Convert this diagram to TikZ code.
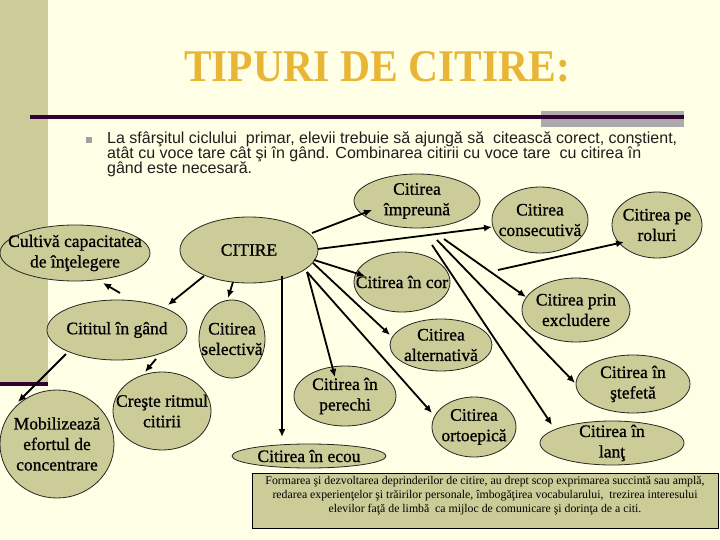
\documentclass[tikz,border=0pt]{standalone}
\usepackage{fontspec}
\setmainfont{Liberation Serif}
\newfontfamily\arialf{Liberation Sans}
\newfontfamily\ellf[FakeBold=0.9]{Liberation Serif}
\usetikzlibrary{shapes.geometric,arrows.meta,calc}
\definecolor{bg}{HTML}{FFFFE5}
\definecolor{olive}{HTML}{CCCC99}
\definecolor{darkline}{HTML}{330033}
\definecolor{titlec}{HTML}{E9B537}
\definecolor{graybar}{HTML}{ABABAB}
\definecolor{bullc}{HTML}{A0A0A0}
\definecolor{bodyc}{HTML}{1E1E1E}
\begin{document}
\begin{tikzpicture}[x=1pt,y=-1pt,
  ell/.style={ellipse, draw=black!85, line width=0.8pt, fill=olive, inner sep=0pt},
  lbl/.style={align=center, font=\ellf\fontsize{17.5}{20.5}\selectfont, inner sep=0pt},
  arr/.style={line width=1.8pt, -{Latex[length=8pt,width=7pt]}},
  bodytext/.style={anchor=base west, inner sep=0pt, text=bodyc, font=\arialf\fontsize{16}{15}\selectfont}
]
\useasboundingbox (0,0) rectangle (720,540);
\fill[bg] (0,0) rectangle (720,540);
\fill[olive] (0,0) rectangle (48,382);
\fill[darkline] (0,382) rectangle (48,386);
\fill[graybar] (541,111) rectangle (684,127);
\fill[darkline] (30,115) rectangle (684,119);

\node[font=\bfseries\fontsize{42}{42}\selectfont, text=titlec, anchor=base, inner sep=0pt, yscale=1.08, xscale=0.99] (title) at (377,82) {TIPURI DE CITIRE:};

\node[fill=bullc, minimum size=6pt, inner sep=0pt] (bullet) at (89,140) {};
\node[bodytext] (l1) at (107,144) {La sfârşitul ciclului~ primar, elevii trebuie să ajungă să~ citească corect, conştient,};
\node[bodytext] (l2) at (107,159) {atât cu voce tare cât şi în gând. Combinarea citirii cu voce tare~ cu citirea în};
\node[bodytext] (l3) at (107,174) {gând este necesară.};

% ellipses
\node[ell, minimum width=126pt, minimum height=54pt] (impreuna) at (417,201) {};
\node[ell, minimum width=96pt, minimum height=66pt] (consec) at (540,220) {};
\node[ell, minimum width=90pt, minimum height=66pt] (roluri) at (657,225) {};
\node[ell, minimum width=150pt, minimum height=56pt] (cultiva) at (75,253) {};
\node[ell, minimum width=138pt, minimum height=66pt] (citire) at (249,250) {};
\node[ell, minimum width=96pt, minimum height=60pt] (cor) at (402,282) {};
\node[ell, minimum width=140pt, minimum height=60pt] (gand) at (117,330) {};
\node[ell, minimum width=66pt, minimum height=78pt] (selectiva) at (232,339) {};
\node[ell, minimum width=98pt, minimum height=78pt] (creste) at (162,411) {};
\node[ell, minimum width=114pt, minimum height=108pt] (mobil) at (57,444) {};
\node[ell, minimum width=154pt, minimum height=24pt] (ecou) at (309,456) {};
\node[ell, minimum width=108pt, minimum height=64pt] (excl) at (576,310) {};
\node[ell, minimum width=102pt, minimum height=52pt] (altern) at (441,345) {};
\node[ell, minimum width=114pt, minimum height=58pt] (stafeta) at (633,384) {};
\node[ell, minimum width=102pt, minimum height=60pt] (perechi) at (345,396) {};
\node[ell, minimum width=84pt, minimum height=60pt] (ortoep) at (474,427) {};
\node[ell, minimum width=144pt, minimum height=44pt] (lant) at (612,443) {};

% labels
\node[lbl] at (impreuna.center) {Citirea\\împreună};
\node[lbl] at (consec.center) {Citirea\\consecutivă};
\node[lbl] at (roluri.center) {Citirea pe\\roluri};
\node[lbl] at (cultiva.center) {Cultivă capacitatea\\de înţelegere};
\node[lbl] at (citire.center) {CITIRE};
\node[lbl] at (cor.center) {Citirea în cor};
\node[lbl] at (gand.center) {Cititul în gând};
\node[lbl] at (selectiva.center) {Citirea\\selectivă};
\node[lbl] at (creste.center) {Creşte ritmul\\citirii};
\node[lbl] at (mobil.center) {Mobilizează\\efortul de\\concentrare};
\node[lbl] at (ecou.center) {Citirea în ecou};
\node[lbl] at (excl.center) {Citirea prin\\excludere};
\node[lbl] at (altern.center) {Citirea\\alternativă};
\node[lbl] at (stafeta.center) {Citirea în\\ştefetă};
\node[lbl] at (perechi.center) {Citirea în\\perechi};
\node[lbl] at (ortoep.center) {Citirea\\ortoepică};
\node[lbl] at (lant.center) {Citirea în\\lanţ};

% text box
\node[draw=black, line width=0.8pt, fill=olive, minimum width=466pt, minimum height=55pt, anchor=north west, inner sep=0pt] (box) at (252,473) {};
\node[align=center, inner sep=0pt, font=\fontsize{11.8}{14}\selectfont] at (485,495.5) {Formarea şi dezvoltarea deprinderilor de citire, au drept scop exprimarea succintă sau amplă,\\redarea experienţelor şi trăirilor personale, îmbogăţirea vocabularului,~ trezirea interesului\\elevilor faţă de limbă~ ca mijloc de comunicare şi dorinţa de a citi.};

% free starts
\coordinate (f1) at (498,270);
\coordinate (f2) at (444,239);
\coordinate (f3) at (437,240);
\coordinate (f4) at (432,245);

% arrows
\draw[arr] ($(citire.center)+(63,-17)$) -- ($(impreuna.center)+(-45,9)$);
\draw[arr] ($(citire.center)+(69,-1)$) -- ($(consec.center)+(-48,7)$);
\draw[arr] ($(citire.center)+(65,10)$) -- ($(cor.center)+(-37,-6)$);
\draw[arr] (f1) -- ($(roluri.center)+(-33,17)$);
\draw[arr] (f2) -- ($(excl.center)+(-50,-13)$);
\draw[arr] (f3) -- ($(stafeta.center)+(-58,-1)$);
\draw[arr] (f4) -- ($(lant.center)+(-60,-18)$);
\draw[arr] ($(citire.center)+(64,13)$) -- ($(altern.center)+(-51,-10)$);
\draw[arr] ($(citire.center)+(58,22)$) -- ($(ortoep.center)+(-42,-14)$);
\draw[arr] ($(citire.center)+(58,22)$) -- ($(perechi.center)+(-10,-19)$);
\draw[arr] ($(citire.center)+(33,26)$) -- ($(ecou.center)+(-27,-19)$);
\draw[arr] ($(citire.center)+(-16,32)$) -- ($(selectiva.center)+(-4,-41)$);
\draw[arr] ($(citire.center)+(-45,26)$) -- ($(gand.center)+(51,-25)$);
\draw[arr] ($(gand.center)+(3,-37)$) -- ($(cultiva.center)+(28,30)$);
\draw[arr] ($(gand.center)+(-51,24)$) -- ($(mobil.center)+(-39,-42)$);
\draw[arr] ($(gand.center)+(39,29)$) -- ($(creste.center)+(-17,-39)$);
\end{tikzpicture}
\end{document}
